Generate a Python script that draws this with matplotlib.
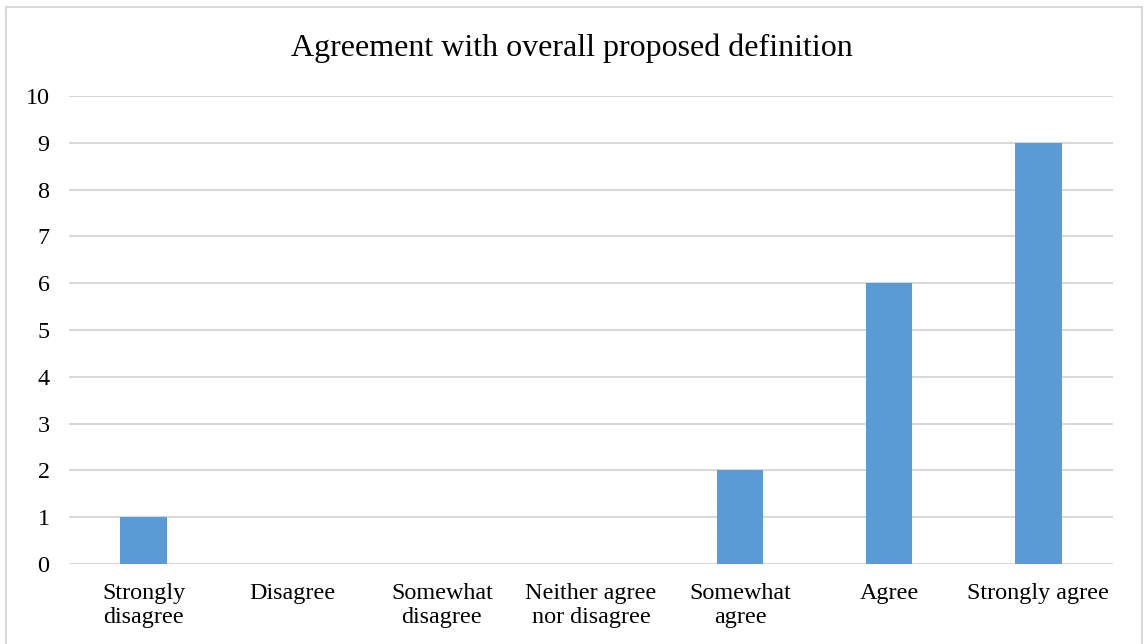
import matplotlib

matplotlib.use("Agg")
import matplotlib.pyplot as plt
from matplotlib.patches import Rectangle

categories = [
    "Strongly\ndisagree",
    "Disagree",
    "Somewhat\ndisagree",
    "Neither agree\nnor disagree",
    "Somewhat\nagree",
    "Agree",
    "Strongly agree",
]
counts = [1, 0, 0, 0, 2, 6, 9]
yticks = list(range(0, 11))

BAR = "#5B9BD5"
GRID = "#D9D9D9"

plt.rcParams["font.family"] = ["Liberation Serif", "DejaVu Serif"]

fig = plt.figure(figsize=(11.44, 6.44), dpi=100)
fig.patch.set_facecolor("white")

# chart frame (bottom edge runs off the image)
fig.patches.append(
    Rectangle((6 / 1144, -0.05), 1136 / 1144, 1 - 7 / 644 + 0.05,
              transform=fig.transFigure, fill=False,
              edgecolor=GRID, linewidth=1.5)
)

ax = fig.add_axes([69 / 1144, 1 - 564 / 644, 1044 / 1144, 468 / 644])
x = range(len(categories))
ax.bar(x, counts, width=0.31, color=BAR, zorder=3)
ax.set_xlim(-0.5, len(categories) - 0.5)
ax.set_ylim(0, 10)
ax.set_yticks(yticks)
ax.set_xticks(list(x))
ax.set_xticklabels(categories, fontsize=17.4, linespacing=1.15)
ax.tick_params(axis="y", labelsize=17.4, length=0, pad=14)
ax.tick_params(axis="x", length=0, pad=14)
ax.grid(axis="y", color=GRID, linewidth=1.5, zorder=0)
for s in ax.spines.values():
    s.set_visible(False)

fig.text(0.5, 1 - 48 / 644, "Agreement with overall proposed definition",
         ha="center", va="center", fontsize=23)

fig.savefig("out.png", dpi=100, facecolor="white")
